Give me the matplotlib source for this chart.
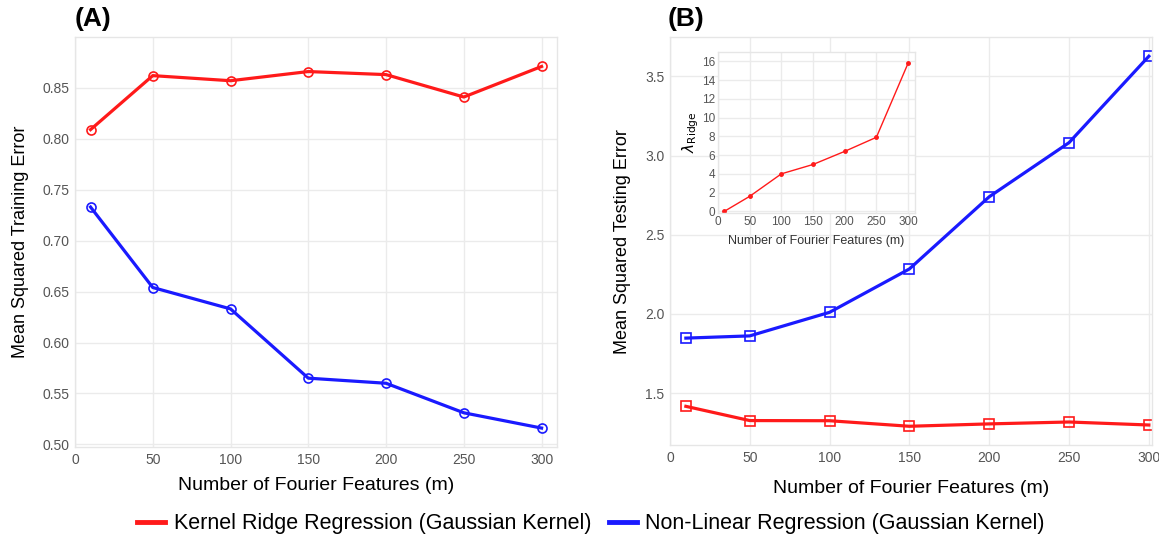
import matplotlib.pyplot as plt
from matplotlib.lines import Line2D

# Data
m_features = [10, 50, 100, 150, 200, 250, 300]

train_krr = [0.809, 0.862, 0.857, 0.866, 0.863, 0.841, 0.871]
train_nlr = [0.733, 0.654, 0.633, 0.565, 0.560, 0.531, 0.516]

test_krr = [1.416, 1.326, 1.325, 1.290, 1.305, 1.317, 1.298]
test_nlr = [1.847, 1.861, 2.010, 2.284, 2.740, 3.082, 3.628]

lambda_ridge = [0.0, 1.6, 4.0, 5.0, 6.4, 7.9, 15.8]

x_ticks = [0, 50, 100, 150, 200, 250, 300]
train_yticks = [0.50, 0.55, 0.60, 0.65, 0.70, 0.75, 0.80, 0.85]
test_yticks = [1.5, 2.0, 2.5, 3.0, 3.5]
inset_yticks = [0, 2, 4, 6, 8, 10, 12, 14, 16]

RED = "#ff1a1a"
BLUE = "#1a1aff"
GRID = "#ebebeb"
TICK = "#555555"


def style_axes(ax, fs=10):
    ax.grid(True, color=GRID, linewidth=1.0)
    ax.set_axisbelow(True)
    for s in ax.spines.values():
        s.set_color("#e6e6e6")
        s.set_linewidth(1.0)
    ax.tick_params(length=0, colors=TICK, labelsize=fs, pad=4)


def main() -> None:
    plt.rcParams["font.family"] = ["Liberation Sans", "DejaVu Sans"]
    fig = plt.figure(figsize=(11.59, 5.43), dpi=100)

    # Panel A: training error
    ax1 = fig.add_axes([0.0647, 0.176, 0.416, 0.756])
    ax1.plot(m_features, train_krr, color=RED, lw=2.3, marker="o", ms=6.5,
             mfc="none", mew=1.2)
    ax1.plot(m_features, train_nlr, color=BLUE, lw=2.3, marker="o", ms=6.5,
             mfc="none", mew=1.2)
    ax1.set_xlim(0, 310)
    ax1.set_ylim(0.497, 0.90)
    ax1.set_xticks(x_ticks)
    ax1.set_yticks(train_yticks)
    ax1.set_yticklabels([f"{v:.2f}" for v in train_yticks])
    style_axes(ax1)
    ax1.set_xlabel("Number of Fourier Features (m)", fontsize=14, labelpad=7)
    ax1.set_ylabel("Mean Squared Training Error", fontsize=13, labelpad=10)

    # Panel B: testing error
    ax2 = fig.add_axes([0.578, 0.180, 0.416, 0.752])
    ax2.plot(m_features, test_krr, color=RED, lw=2.3, marker="s", ms=7,
             mfc="none", mew=1.2)
    ax2.plot(m_features, test_nlr, color=BLUE, lw=2.3, marker="s", ms=7,
             mfc="none", mew=1.2)
    ax2.set_xlim(0, 302)
    ax2.set_ylim(1.17, 3.75)
    ax2.set_xticks(x_ticks)
    ax2.set_yticks(test_yticks)
    ax2.set_yticklabels([f"{v:.1f}" for v in test_yticks])
    style_axes(ax2)
    ax2.set_xlabel("Number of Fourier Features (m)", fontsize=14, labelpad=11)
    ax2.set_ylabel("Mean Squared Testing Error", fontsize=13, labelpad=10)

    # Inset: lambda ridge
    ax3 = fig.add_axes([0.6195, 0.6077, 0.170, 0.2965])
    ax3.patch.set_facecolor("white")
    ax3.plot(m_features, lambda_ridge, color=RED, lw=1.0, marker="o", ms=2.5)
    ax3.set_xlim(0, 311)
    ax3.set_ylim(-0.18, 17.0)
    ax3.set_xticks(x_ticks)
    ax3.set_yticks(inset_yticks)
    style_axes(ax3, fs=8.5)
    ax3.tick_params(pad=2)
    ax3.set_xlabel("Number of Fourier Features (m)", fontsize=9, labelpad=5,
                   color="#333333")
    ax3.set_ylabel(r"$\lambda_{\mathrm{Ridge}}$", fontsize=11, labelpad=1)

    # Panel labels
    fig.text(0.064, 0.965, "(A)", fontsize=19, fontweight="bold", va="center")
    fig.text(0.576, 0.965, "(B)", fontsize=19, fontweight="bold", va="center")

    # Shared legend
    handles = [
        Line2D([], [], color=RED, lw=3.5),
        Line2D([], [], color=BLUE, lw=3.5),
    ]
    labels = [
        "Kernel Ridge Regression (Gaussian Kernel)",
        "Non-Linear Regression (Gaussian Kernel)",
    ]
    fig.legend(handles, labels, loc="center", bbox_to_anchor=(0.51, 0.035),
               ncol=2, frameon=False, fontsize=15.5, handlelength=1.3,
               handletextpad=0.4, columnspacing=0.8)

    fig.savefig("out.png", dpi=100)


if __name__ == "__main__":
    main()
